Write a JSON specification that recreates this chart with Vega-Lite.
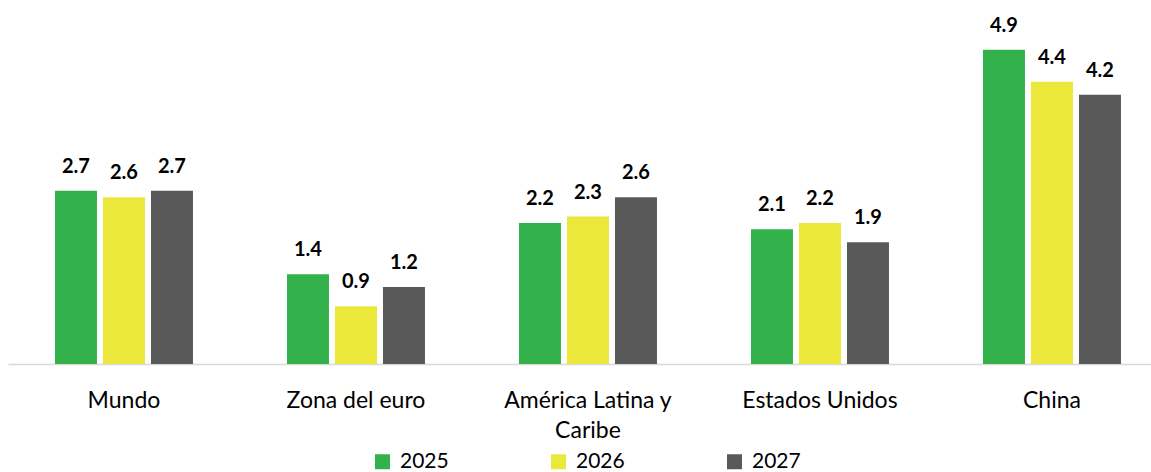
{
  "$schema": "https://vega.github.io/schema/vega-lite/v6.json",
  "width": 1143,
  "height": 354,
  "autosize": {"type": "none"},
  "padding": {"left": 8, "top": 10, "right": 0, "bottom": 108},
  "background": "white",
  "config": {"view": {"stroke": null}, "font": "Lato"},
  "data": {"values": [
    {"region": "Mundo", "year": "2025", "value": 2.7},
    {"region": "Mundo", "year": "2026", "value": 2.6},
    {"region": "Mundo", "year": "2027", "value": 2.7},
    {"region": "Zona del euro", "year": "2025", "value": 1.4},
    {"region": "Zona del euro", "year": "2026", "value": 0.9},
    {"region": "Zona del euro", "year": "2027", "value": 1.2},
    {"region": "América Latina y Caribe", "year": "2025", "value": 2.2},
    {"region": "América Latina y Caribe", "year": "2026", "value": 2.3},
    {"region": "América Latina y Caribe", "year": "2027", "value": 2.6},
    {"region": "Estados Unidos", "year": "2025", "value": 2.1},
    {"region": "Estados Unidos", "year": "2026", "value": 2.2},
    {"region": "Estados Unidos", "year": "2027", "value": 1.9},
    {"region": "China", "year": "2025", "value": 4.9},
    {"region": "China", "year": "2026", "value": 4.4},
    {"region": "China", "year": "2027", "value": 4.2}
  ]},
  "encoding": {
    "x": {
      "field": "region", "type": "nominal", "sort": null, "title": null,
      "scale": {"paddingInner": 0.4052, "paddingOuter": 0.166, "align": 0.61},
      "axis": {
        "labelAngle": 0, "labelFont": "Lato", "labelFontSize": 23, "labelColor": "#000000",
        "labelPadding": 25, "ticks": false, "tickSize": 0, "domainColor": "#d9d9d9", "domainWidth": 1.5,
        "labelLineHeight": 30, "labelLimit": 300,
        "labelExpr": "datum.label == 'América Latina y Caribe' ? ['América Latina y', 'Caribe'] : datum.label"
      }
    },
    "xOffset": {"field": "year", "type": "nominal", "scale": {"paddingInner": 0.125, "paddingOuter": 0}},
    "y": {"field": "value", "type": "quantitative", "scale": {"domain": [0, 5.52], "nice": false, "zero": true}, "axis": null}
  },
  "layer": [
    {
      "mark": {"type": "bar"},
      "encoding": {
        "color": {
          "field": "year", "type": "nominal",
          "scale": {"domain": ["2025", "2026", "2027"], "range": ["#33b24c", "#ebe83b", "#595959"]},
          "legend": {
            "title": null, "orient": "none", "direction": "horizontal",
            "legendX": 364, "legendY": 441, "padding": 0,
            "symbolType": "square", "symbolSize": 225, "symbolStrokeWidth": 0,
            "labelFont": "Lato", "labelFontSize": 21, "labelColor": "#000000",
            "labelOffset": 7, "columnPadding": 99
          }
        }
      }
    },
    {
      "mark": {"type": "text", "baseline": "alphabetic", "dy": -18, "font": "Lato", "fontSize": 20, "fontWeight": "bold", "color": "#000000"},
      "encoding": {"text": {"field": "value", "type": "quantitative", "format": ".1f"}}
    }
  ]
}
